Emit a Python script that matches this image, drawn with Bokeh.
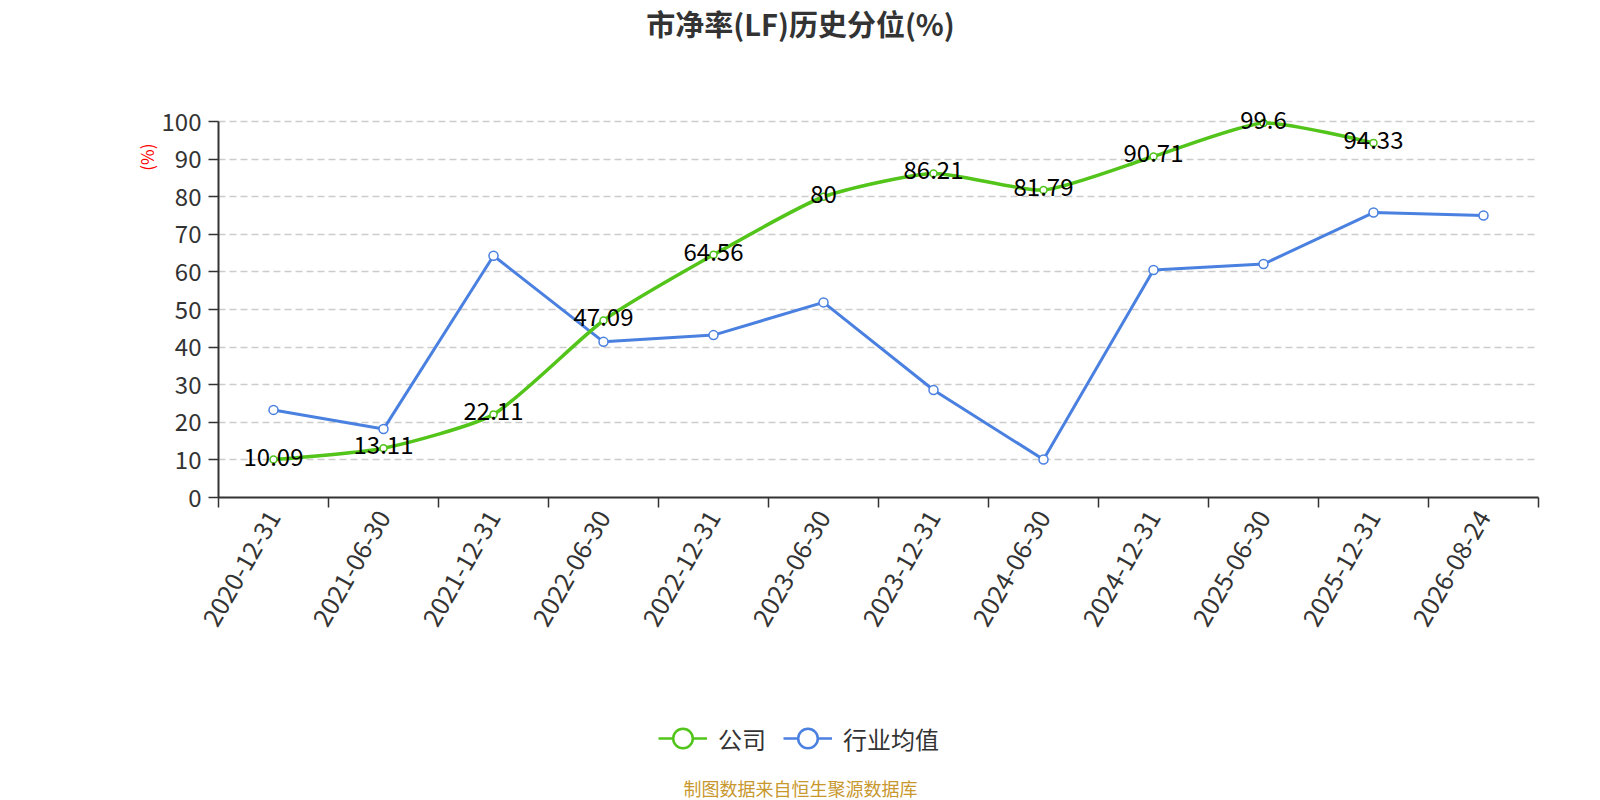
import math
from bokeh.plotting import figure
from bokeh.layouts import column
from bokeh.models import (Range1d, LinearAxis, FixedTicker, Label, Legend, LegendItem,
                          ColumnDataSource, Title)
from bokeh.core.properties import value
from bokeh.embed import file_html
from bokeh.resources import INLINE

# ---- data ----
dates = ["2020-12-31", "2021-06-30", "2021-12-31", "2022-06-30", "2022-12-31", "2023-06-30",
         "2023-12-31", "2024-06-30", "2024-12-31", "2025-06-30", "2025-12-31", "2026-08-24"]
company = [10.09, 13.11, 22.11, 47.09, 64.56, 80, 86.21, 81.79, 90.71, 99.6, 94.33]
industry = [23.3, 18.2, 64.3, 41.4, 43.2, 51.9, 28.6, 10.1, 60.5, 62.1, 75.8, 75.0]
y_ticks = list(range(0, 101, 10))

title_text = "市净率(LF)历史分位(%)"
y_name = "(%)"
series_names = ["公司", "行业均值"]
source_text = "制图数据来自恒生聚源数据库"

FONT = "Noto Sans CJK SC"
GREEN = "#52c41a"
BLUE = "#4a80e0"
W = 1584
TOTAL_H = 799


def blank_fig(h):
    f = figure(width=W, height=h, x_range=Range1d(0, 1), y_range=Range1d(0, 1),
               output_backend="svg", toolbar_location=None,
               x_axis_location=None, y_axis_location=None, min_border=0)
    f.outline_line_color = None
    f.grid.visible = False
    return f


LEFT, FRAME_W = 218, 1320
CENTER_X = 800 - LEFT  # page centre, relative to the (aligned) frame left

# ---- title strip ----
T_H = 90
t = blank_fig(T_H)
t.add_layout(Label(x=CENTER_X, y=T_H - 22, x_units="screen", y_units="screen",
                   text=title_text, text_align="center", text_baseline="middle",
                   text_font=FONT, text_font_size="29px", text_font_style="bold",
                   text_color="#333333"))

# ---- main chart ----
TOP, BOTTOM, FRAME_H = 7, 150, 400
Y_MAX = 106.4  # headroom above 100 so top value labels are not clipped
P_H = TOP + FRAME_H + BOTTOM
p = figure(width=W, height=P_H, x_range=dates, y_range=Range1d(0, Y_MAX),
           output_backend="svg", toolbar_location=None,
           x_axis_location=None, y_axis_location=None,
           min_border_left=LEFT, min_border_right=W - LEFT - FRAME_W,
           min_border_top=TOP, min_border_bottom=BOTTOM)
p.outline_line_color = None
p.xgrid.visible = False
p.ygrid.grid_line_color = "#cccccc"
p.ygrid.grid_line_dash = "7 4"
p.ygrid.grid_line_width = 1.3
p.ygrid.ticker = FixedTicker(ticks=y_ticks[1:])

yaxis = LinearAxis(ticker=FixedTicker(ticks=y_ticks), bounds=(0, 100))
yaxis.axis_line_color = "#333333"
yaxis.axis_line_width = 2
yaxis.major_tick_line_color = "#333333"
yaxis.major_tick_line_width = 1.5
yaxis.major_tick_out = 10
yaxis.major_tick_in = 0
yaxis.minor_tick_line_color = None
yaxis.major_label_text_font = FONT
yaxis.major_label_text_font_size = "24px"
yaxis.major_label_text_color = "#333333"
yaxis.major_label_standoff = 7
p.add_layout(yaxis, "left")

p.add_layout(Title(text=y_name, align="right", offset=46, standoff=0,
                   text_color="#ff0000", text_font=FONT, text_font_size="17px",
                   text_font_style="normal"), "left")

n = len(dates)
centres = [i + 0.5 for i in range(n)]
xaxis = LinearAxis(ticker=FixedTicker(ticks=centres, minor_ticks=list(range(n + 1))))
xaxis.major_label_overrides = {c: d for c, d in zip(centres, dates)}
xaxis.axis_line_color = "#333333"
xaxis.axis_line_width = 2
xaxis.major_tick_line_color = None
xaxis.major_tick_out = 0
xaxis.major_tick_in = 0
xaxis.minor_tick_line_color = "#333333"
xaxis.minor_tick_line_width = 1.5
xaxis.minor_tick_out = 10
xaxis.minor_tick_in = 0
xaxis.major_label_orientation = math.pi / 3
xaxis.major_label_text_font = FONT
xaxis.major_label_text_font_size = "25px"
xaxis.major_label_text_color = "#333333"
xaxis.major_label_standoff = 5
p.add_layout(xaxis, "below")

# lightly smoothed company line (ECharts-style cubic segments, computed from the data)
KX, KY, SMOOTH = 110.0, FRAME_H / Y_MAX, 0.2
pts = [((i + 0.5) * KX, v * KY) for i, v in enumerate(company)]
seg = {k: [] for k in ["x0", "y0", "x1", "y1", "cx0", "cy0", "cx1", "cy1"]}
cp0 = pts[0]
for i in range(1, len(pts)):
    (px_, py_), (x_, y_) = pts[i - 1], pts[i]
    if i + 1 < len(pts):
        nx_, ny_ = pts[i + 1]
        vx, vy = nx_ - px_, ny_ - py_
        l0 = math.hypot(x_ - px_, y_ - py_)
        l1 = math.hypot(nx_ - x_, ny_ - y_)
        r = l1 / (l0 + l1)
        ncp = (x_ + vx * SMOOTH * r, y_ + vy * SMOOTH * r)
    else:
        vx = vy = 0.0
        r = 0.5
        ncp = (x_, y_)
    cp1 = (x_ - vx * SMOOTH * (1 - r), y_ - vy * SMOOTH * (1 - r))
    for key, val in (("x0", px_ / KX), ("y0", py_ / KY), ("x1", x_ / KX), ("y1", y_ / KY),
                     ("cx0", cp0[0] / KX), ("cy0", cp0[1] / KY),
                     ("cx1", cp1[0] / KX), ("cy1", cp1[1] / KY)):
        seg[key].append(val)
    cp0 = ncp

src_c = ColumnDataSource(dict(x=dates[:len(company)], y=company,
                              t=[f"{v:g}" for v in company]))
src_i = ColumnDataSource(dict(x=dates, y=industry))

p.line("x", "y", source=src_i, line_color=BLUE, line_width=3, line_join="round")
p.scatter("x", "y", source=src_i, size=9, marker="circle", fill_color="white",
          line_color=BLUE, line_width=1.5)
p.bezier(x0="x0", y0="y0", x1="x1", y1="y1", cx0="cx0", cy0="cy0", cx1="cx1", cy1="cy1",
         source=ColumnDataSource(seg), line_color=GREEN, line_width=3.5, line_cap="round")
p.scatter("x", "y", source=src_c, size=7, marker="circle", fill_color="white",
          line_color=GREEN, line_width=1.5)
p.text("x", "y", text="t", source=src_c, text_align="center", text_baseline="middle",
       text_font_size="24px", text_color="#000000", text_font=value(FONT), y_offset=-3)

# ---- legend + source strip ----
Q_H = TOTAL_H - T_H - P_H
q = blank_fig(Q_H)
nan = [float("nan")]
dl_c = q.line(nan, nan, line_color=GREEN, line_width=2.5)
ds_c = q.scatter(nan, nan, marker="circle", fill_color="white", line_color=GREEN, line_width=2.5)
dl_i = q.line(nan, nan, line_color=BLUE, line_width=2.5)
ds_i = q.scatter(nan, nan, marker="circle", fill_color="white", line_color=BLUE, line_width=2.5)
legend = Legend(items=[LegendItem(label=series_names[0], renderers=[dl_c, ds_c]),
                       LegendItem(label=series_names[1], renderers=[dl_i, ds_i])],
                location=(658 - LEFT, Q_H - 91 - 27), orientation="horizontal",
                glyph_width=49, glyph_height=54, label_text_font=FONT,
                label_text_font_size="24px", label_text_color="#333333",
                label_text_baseline="middle",
                border_line_color=None, background_fill_alpha=0, spacing=17,
                padding=0, margin=0, label_standoff=11)
q.add_layout(legend, "center")
q.add_layout(Label(x=CENTER_X, y=12, x_units="screen", y_units="screen",
                   text=source_text, text_align="center", text_baseline="middle",
                   text_font=FONT, text_font_size="18px", text_color="#c8982f"))

layout = column(t, p, q, spacing=0)
open("out.html", "w").write(file_html(layout, INLINE))
